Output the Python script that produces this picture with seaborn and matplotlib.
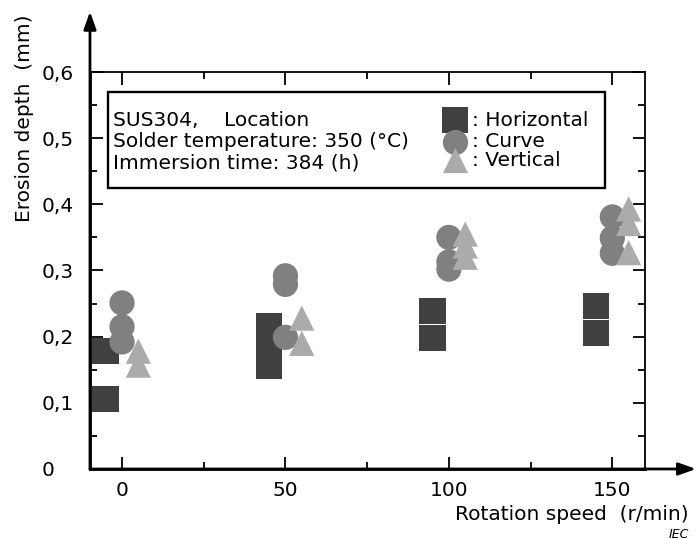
import matplotlib
matplotlib.use("Agg")
import matplotlib.pyplot as plt
from matplotlib.patches import Rectangle
from matplotlib.ticker import MultipleLocator, FixedLocator
import seaborn as sns
import pandas as pd

# ---- data ----
rpm_h = [0, 0, 50, 50, 50, 100, 100, 150, 150]
depth_h = [0.178, 0.106, 0.216, 0.187, 0.156, 0.239, 0.198, 0.246, 0.206]
rpm_c = [0, 0, 0, 50, 50, 50, 100, 100, 100, 150, 150, 150]
depth_c = [0.251, 0.215, 0.192, 0.292, 0.279, 0.199, 0.350, 0.313, 0.302, 0.381, 0.349, 0.326]
rpm_v = [0, 0, 50, 50, 100, 100, 100, 150, 150, 150]
depth_v = [0.178, 0.157, 0.228, 0.190, 0.355, 0.337, 0.320, 0.393, 0.371, 0.327]
locations = ["Horizontal", "Curve", "Vertical"]
x_ticks = [0, 50, 100, 150]
y_ticks = [0, 0.1, 0.2, 0.3, 0.4, 0.5, 0.6]
y_tick_labels = ["0", "0,1", "0,2", "0,3", "0,4", "0,5", "0,6"]

# ---- styling ----
colors = {"Horizontal": "#404040", "Curve": "#808080", "Vertical": "#ababab"}
markers = {"Horizontal": "s", "Curve": "o", "Vertical": "^"}
offsets = {"Horizontal": -5, "Curve": 0, "Vertical": 5}
sizes = {"Horizontal": 360, "Curve": 330, "Vertical": 330}

frames = []
for loc, r, d in zip(locations, [rpm_h, rpm_c, rpm_v], [depth_h, depth_c, depth_v]):
    f = pd.DataFrame({"rpm": r, "depth": d, "Location": loc})
    f["xpos"] = f["rpm"] + offsets[loc]
    frames.append(f)
df = pd.concat(frames, ignore_index=True)

sns.set_theme(style="white")
plt.rcParams["font.family"] = ["DejaVu Sans"]
plt.rcParams["text.color"] = "black"
plt.rcParams["axes.labelcolor"] = "black"
plt.rcParams["xtick.color"] = "black"
plt.rcParams["ytick.color"] = "black"
FS = 14.5

fig = plt.figure(figsize=(6.97, 5.39), dpi=100)
ax = fig.add_axes([0.1291, 0.1299, 0.7963, 0.7365])

sns.scatterplot(data=df, x="xpos", y="depth", hue="Location", style="Location",
                size="Location", sizes=sizes,
                palette=colors, markers=markers, linewidth=0,
                legend=False, ax=ax, zorder=3)

ax.set_xlim(-9.8, 160)
ax.set_ylim(0, 0.6)
ax.set_xlabel("")
ax.set_ylabel("")

ax.xaxis.set_major_locator(FixedLocator(x_ticks))
ax.xaxis.set_minor_locator(MultipleLocator(25))
ax.yaxis.set_major_locator(FixedLocator(y_ticks))
ax.yaxis.set_minor_locator(MultipleLocator(0.05))
ax.set_xticklabels([str(t) for t in x_ticks])
ax.set_yticklabels(y_tick_labels)

ax.tick_params(which="both", direction="in", top=True, right=True,
               bottom=True, left=True, color="black", labelsize=FS,
               labelcolor="black")
ax.tick_params(which="major", length=9, width=1.3)
ax.tick_params(which="minor", length=5, width=1.3)
ax.tick_params(axis="x", pad=9)
ax.tick_params(axis="y", pad=35)
for lab in ax.get_yticklabels():
    lab.set_horizontalalignment("left")

for s in ["top", "right"]:
    ax.spines[s].set_linewidth(1.3)
    ax.spines[s].set_color("black")
for s in ["left", "bottom"]:
    ax.spines[s].set_linewidth(2.0)
    ax.spines[s].set_color("black")

# axis arrows
ap = dict(arrowstyle="-|>,head_length=0.7,head_width=0.25", lw=2.0,
          color="black", shrinkA=0, shrinkB=0, mutation_scale=15)
ax.annotate("", xy=(0, 1.152), xytext=(0, 0), xycoords="axes fraction",
            textcoords="axes fraction", arrowprops=ap, annotation_clip=False)
ax.annotate("", xy=(1.092, 0), xytext=(0, 0), xycoords="axes fraction",
            textcoords="axes fraction", arrowprops=ap, annotation_clip=False)

# info / legend box
box = Rectangle((0.0324, 0.708), 0.896, 0.242, transform=ax.transAxes,
                fill=True, facecolor="white", edgecolor="black", lw=1.7, zorder=4)
ax.add_patch(box)
info = ["SUS304,    Location", "Solder temperature: 350 (°C)", "Immersion time: 384 (h)"]
for txt, yy in zip(info, [0.879, 0.824, 0.771]):
    ax.text(0.041, yy, txt, transform=ax.transAxes, fontsize=FS, color="black",
            va="center", ha="left", zorder=5)
for loc, yy in zip(locations, [0.879, 0.824, 0.778]):
    ax.scatter([0.658], [yy], transform=ax.transAxes, marker=markers[loc],
               s=sizes[loc], color=colors[loc], linewidth=0, zorder=5, clip_on=False)
    ax.text(0.688, yy, ": " + loc, transform=ax.transAxes, fontsize=FS,
            color="black", va="center", ha="left", zorder=5)

fig.text(25 / 697, 1 - 118 / 539, "Erosion depth  (mm)", rotation=90,
         fontsize=FS, ha="center", va="center", color="black")
fig.text(689 / 697, 1 - 515 / 539, "Rotation speed  (r/min)", fontsize=FS,
         ha="right", va="center", color="black")
fig.text(669 / 697, 1 - 534 / 539, "IEC", fontsize=9, style="italic",
         ha="left", va="center", color="black")

fig.savefig("out.png", dpi=100)
